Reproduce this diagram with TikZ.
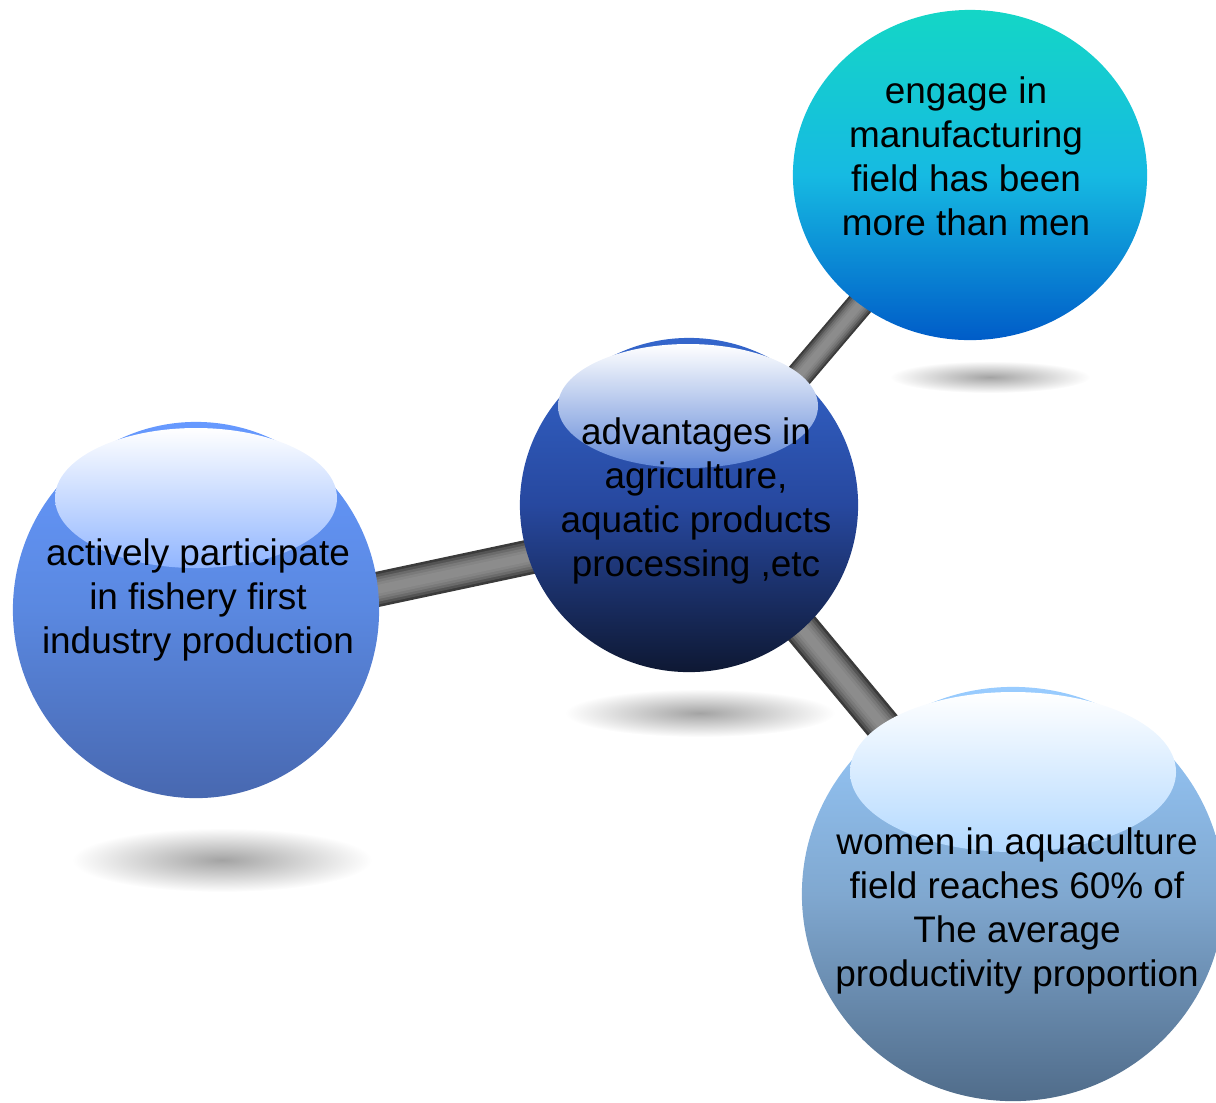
\documentclass[tikz,border=0pt]{standalone}
\usepackage{fontspec}
\setmainfont{Liberation Sans}
\usetikzlibrary{shapes.geometric}
\pgfdeclarelayer{background}
\pgfsetlayers{background,main}

\definecolor{trTop}{HTML}{14D6C6}
\definecolor{trMid}{HTML}{16BAE2}
\definecolor{trBot}{HTML}{005CC8}
\definecolor{ctrTop}{HTML}{3466CC}
\definecolor{ctrMid}{HTML}{27489F}
\definecolor{ctrBot}{HTML}{0E1833}
\definecolor{lfTop}{HTML}{6699FF}
\definecolor{lfMid}{HTML}{5A88E0}
\definecolor{lfBot}{HTML}{4868B0}
\definecolor{brTop}{HTML}{99CCFF}
\definecolor{brMid}{HTML}{80A8D0}
\definecolor{brBot}{HTML}{506C8A}

\tikzset{
  bubble/.style={ellipse, inner sep=0pt, draw=none},
  gloss/.style={draw=none},
  shadowblob/.style={inner color=black!36, outer color=white},
  blurb/.style={align=center, text=black, inner sep=0pt, font=\fontsize{10.5}{12.5}\selectfont}
}

\begin{document}
\begin{tikzpicture}[x=0.01cm,y=-0.01cm]
\useasboundingbox (0,0) rectangle (1216,1102);

% spheres
\node[bubble, minimum width=3.54cm, minimum height=3.30cm, top color=trTop, bottom color=trBot, middle color=trMid] (tr) at (970,175) {};
\node[bubble, minimum width=3.38cm, minimum height=3.34cm, top color=ctrTop, bottom color=ctrBot, middle color=ctrMid] (ctr) at (689,505) {};
\node[bubble, minimum width=3.66cm, minimum height=3.76cm, top color=lfTop, bottom color=lfBot, middle color=lfMid] (lf) at (196,610) {};
\node[bubble, minimum width=4.22cm, minimum height=4.14cm, top color=brTop, bottom color=brBot, middle color=brMid] (br) at (1013,894) {};

% highlights
\shade[gloss, top color=white, bottom color=ctrTop!78!white] (688,406) ellipse (130 and 62);
\shade[gloss, top color=white, bottom color=lfTop!72!white] (196,498) ellipse (141 and 70);
\shade[gloss, top color=white, bottom color=brTop!75!white] (1013,772) ellipse (163 and 80);

% texts
\node[blurb] (tr-txt) at (966,156) {engage in\\manufacturing\\field has been\\more than men};
\node[blurb] (ctr-txt) at (696,501) {advantages in\\agriculture,\\aquatic products\\processing ,etc};
\node[blurb] (lf-txt) at (198,600) {actively participate\\in fishery first\\industry production};
\node[blurb] (br-txt) at (1017,911) {women in aquaculture\\field reaches 60\% of\\The average\\productivity proportion};

\begin{pgfonlayer}{background}
  % shadows
  \shade[shadowblob] (990,377) ellipse (100 and 16);
  \shade[shadowblob] (700,713) ellipse (135 and 24);
  \shade[shadowblob] (222,860) ellipse (150 and 32);
  % rods
  \foreach \a/\b/\w/\s in {lf/ctr/35/18, br/ctr/36/-12, tr/ctr/27/0}
    \foreach \f/\c in {1/77,0.85/67,0.7/58,0.55/52,0.4/48,0.25/45}
      \draw[line width=\f*\w*0.01cm, black!\c]
        ([yshift={-(\s)*0.01cm}]\a.center) -- ([yshift={-(\s)*0.01cm}]\b.center);
\end{pgfonlayer}
\end{tikzpicture}
\end{document}
